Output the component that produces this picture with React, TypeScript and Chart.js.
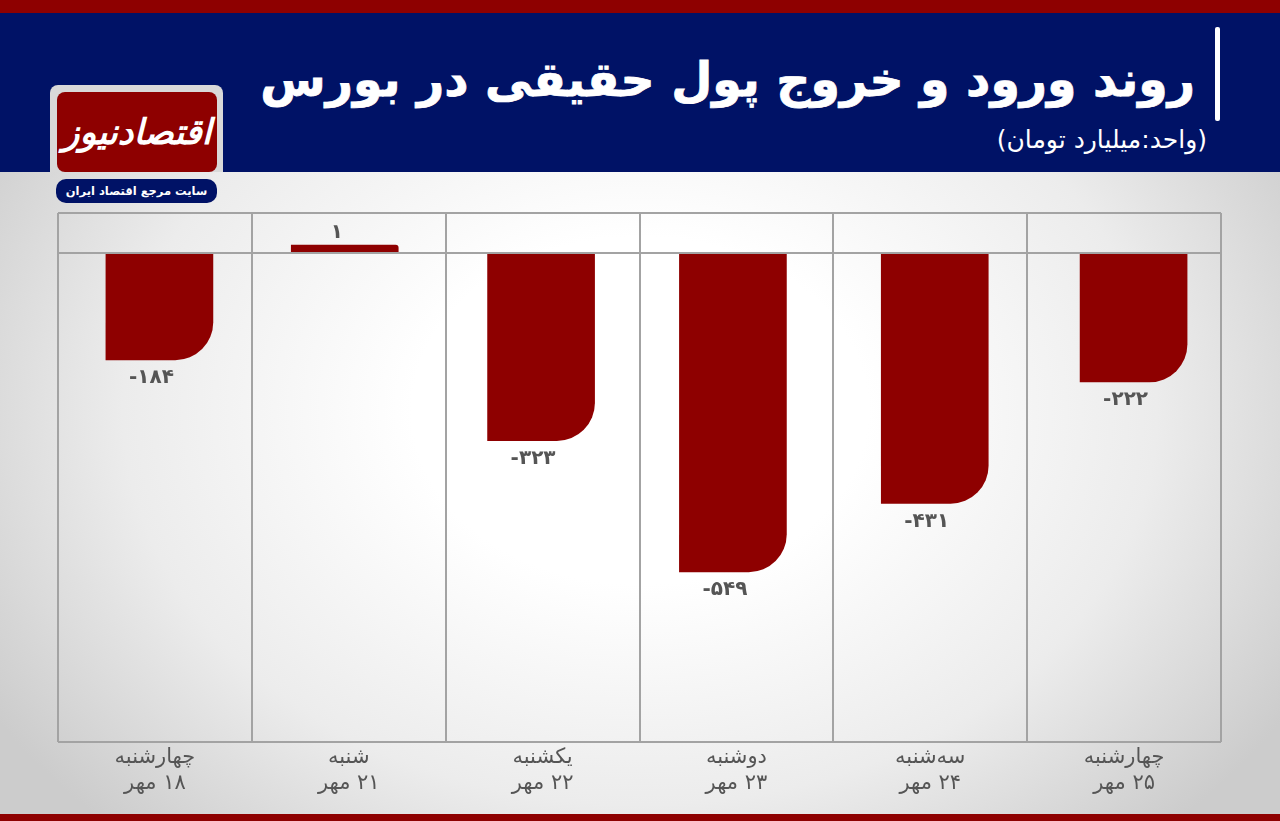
import React, { useEffect, useRef } from "react";
import { Chart, registerables } from "chart.js";

Chart.register(...registerables);

const weekdays = ["چهارشنبه", "شنبه", "یکشنبه", "دوشنبه", "سه‌شنبه", "چهارشنبه"];
const dates = ["۱۸ مهر", "۲۱ مهر", "۲۲ مهر", "۲۳ مهر", "۲۴ مهر", "۲۵ مهر"];
const flows = [-184, 1, -323, -549, -431, -222];

const titleText = "روند ورود و خروج پول حقیقی در بورس";
const unitText = "(واحد:میلیارد تومان)";
const logoText = "اقتصادنیوز";
const sloganText = "سایت مرجع اقتصاد ایران";

// The source's bars sit slightly off their category centres (pixels).
const barNudge = [4.5, -4, -1.5, -3.5, 4.5, 9.5];

const FONT = '"DejaVu Sans", sans-serif';
const RED = "#8e0000";
const NAVY = "#001266";
const GRID = "#a3a3a3";
const TEXT = "#555555";

const toPersian = (n: number) =>
  String(n).replace(/\d/g, (d) => "۰۱۲۳۴۵۶۷۸۹"[Number(d)]);

const barTweaks = {
  id: "barTweaks",
  afterDatasetsUpdate(chart: any) {
    chart.getDatasetMeta(0).data.forEach((el: any, i: number) => {
      el.x += barNudge[i];
    });
  },
  afterDatasetsDraw(chart: any) {
    const { ctx } = chart;
    ctx.save();
    ctx.direction = "ltr";
    ctx.font = `bold 20px ${FONT}`;
    ctx.fillStyle = TEXT;
    ctx.textAlign = "center";
    ctx.textBaseline = "middle";
    chart.getDatasetMeta(0).data.forEach((el: any, i: number) => {
      const v = flows[i];
      const y = v < 0 ? el.y + 18 : el.y - 12;
      ctx.fillText(toPersian(v), el.x - 8, y);
    });
    ctx.restore();
  },
};

export default function App() {
  const ref = useRef<HTMLCanvasElement>(null);
  useEffect(() => {
    document.body.style.margin = "0";
    const chart = new Chart(ref.current!, {
      type: "bar",
      data: {
        labels: weekdays.map((w, i) => [w, dates[i]]),
        datasets: [
          {
            data: flows,
            backgroundColor: RED,
            barThickness: 107,
            minBarLength: 8,
            borderSkipped: false,
            borderRadius: (c: any) =>
              c.raw < 0
                ? { topLeft: 0, topRight: 0, bottomLeft: 0, bottomRight: 38 }
                : { topLeft: 0, topRight: 3, bottomLeft: 0, bottomRight: 0 },
          },
        ],
      },
      options: {
        responsive: false,
        animation: false,
        layout: { padding: { left: 58, right: 59, top: 213, bottom: 0 } },
        plugins: { legend: { display: false }, tooltip: { enabled: false } },
        scales: {
          x: {
            afterFit: (s: any) => {
              s.height = 79;
            },
            grid: { color: GRID, lineWidth: 2, drawTicks: false },
            border: { display: false },
            ticks: {
              color: TEXT,
              font: { family: FONT, size: 21, lineHeight: 1.25 },
              padding: 2,
              maxRotation: 0,
              autoSkip: false,
            },
          },
          y: {
            min: -842,
            max: 69,
            afterFit: (s: any) => {
              s.width = 0;
            },
            afterBuildTicks: (s: any) => {
              s.ticks = [{ value: -842 }, { value: 0 }, { value: 69 }];
            },
            grid: { color: GRID, lineWidth: 2, drawTicks: false, z: 1 },
            border: { display: false },
            ticks: { display: false },
          },
        },
      },
      plugins: [barTweaks],
    } as any);
    return () => chart.destroy();
  }, []);

  const abs = (s: React.CSSProperties): React.CSSProperties => ({ position: "absolute", ...s });

  return (
    <div
      style={{
        position: "relative",
        width: 1280,
        height: 821,
        overflow: "hidden",
        fontFamily: FONT,
        background: "radial-gradient(ellipse 760px 580px at 50% 50%, #ffffff 30%, #ececec 68%, #cccccc 100%)",
      }}
    >
      <div style={abs({ left: 0, top: 0, width: 1280, height: 13, background: RED })} />
      <div style={abs({ left: 0, top: 13, width: 1280, height: 159, background: NAVY })} />
      <div style={abs({ left: 0, top: 814, width: 1280, height: 7, background: RED })} />
      <div style={abs({ left: 1215, top: 27, width: 5, height: 94, background: "#fff", borderRadius: 2 })} />
      <div
        dir="rtl"
        style={abs({
          right: 85,
          top: 42,
          color: "#fff",
          fontWeight: 700,
          fontSize: 47.4,
          lineHeight: "76px",
          whiteSpace: "nowrap",
          WebkitTextStroke: "0.8px #fff",
        })}
      >
        {titleText}
      </div>
      <div
        dir="rtl"
        style={abs({ right: 73, top: 123, color: "#fff", fontSize: 25, lineHeight: "34px", whiteSpace: "nowrap" })}
      >
        {unitText}
      </div>
      <div style={abs({ left: 50, top: 85, width: 173, height: 87, background: "#d9d9d9", borderRadius: "8px 8px 0 0" })} />
      <div
        dir="rtl"
        style={abs({
          left: 57,
          top: 92,
          width: 160,
          height: 80,
          background: RED,
          borderRadius: 8,
          color: "#fff",
          fontWeight: 700,
          fontStyle: "italic",
          fontSize: 35,
          lineHeight: "80px",
          textAlign: "center",
          whiteSpace: "nowrap",
        })}
      >
        {logoText}
      </div>
      <div
        dir="rtl"
        style={abs({
          left: 56,
          top: 179,
          width: 161,
          height: 24,
          background: NAVY,
          borderRadius: 10,
          color: "#fff",
          fontWeight: 700,
          fontSize: 11.5,
          lineHeight: "24px",
          textAlign: "center",
          whiteSpace: "nowrap",
        })}
      >
        {sloganText}
      </div>
      <canvas ref={ref} dir="rtl" width={1280} height={821} style={abs({ left: 0, top: 0, display: "block" })} />
    </div>
  );
}
